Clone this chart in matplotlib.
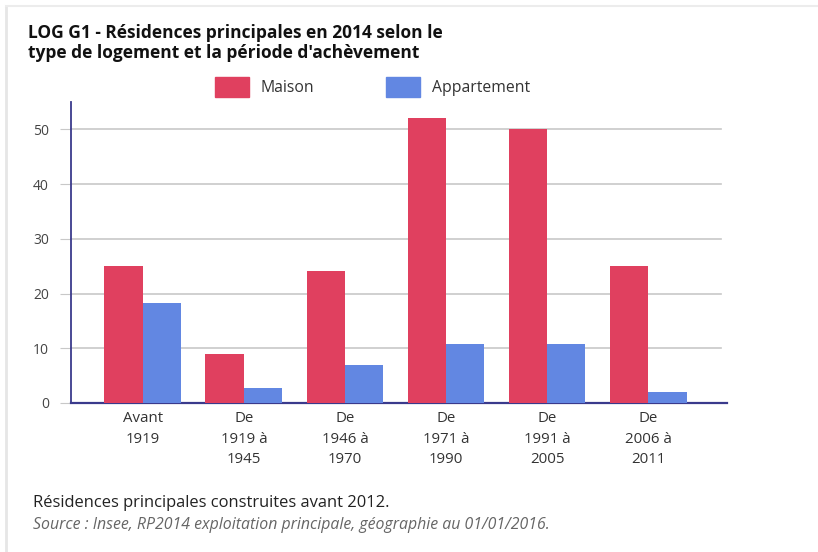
import matplotlib.pyplot as plt
import numpy as np
from matplotlib.patches import Rectangle
from matplotlib.lines import Line2D

categories = ["Avant\n1919", "De\n1919 à\n1945", "De\n1946 à\n1970",
              "De\n1971 à\n1990", "De\n1991 à\n2005", "De\n2006 à\n2011"]
maison = [25, 8.9, 24.1, 52, 50, 25]
appartement = [18.2, 2.8, 6.9, 10.8, 10.8, 2.0]
yticks = [0, 10, 20, 30, 40, 50]

RED = "#e0405f"
BLUE = "#6287e2"
AXIS = "#3a3a8c"

plt.rcParams["font.family"] = ["Open Sans", "DejaVu Sans"]

fig = plt.figure(figsize=(8.18, 5.52), dpi=100)
ax = fig.add_axes([71 / 818, 1 - 403 / 552, (727 - 71) / 818, (403 - 102) / 552])

x = np.arange(len(categories))
w = 0.38
ax.bar(x - w / 2, maison, w, color=RED, zorder=3)
ax.bar(x + w / 2, appartement, w, color=BLUE, zorder=3)

ax.set_xlim(-0.71, 5.78)
ax.set_ylim(0, 55)
ax.set_yticks(yticks)
ax.set_yticklabels([str(t) for t in yticks], fontsize=10, color="#444444")
ax.set_xticks(x)
ax.set_xticklabels(categories, fontsize=10.8, color="#333333", linespacing=1.5)
ax.tick_params(axis="x", length=0, pad=6)
ax.tick_params(axis="y", length=8, color="#c8c8c8", pad=8)
for t in yticks[1:]:
    ax.plot([-0.71, 5.72], [t, t], color="#c8c8c8", lw=1.2, zorder=1, clip_on=False)

for s in ["top", "right"]:
    ax.spines[s].set_visible(False)
ax.spines["left"].set_color(AXIS)
ax.spines["bottom"].set_color(AXIS)
ax.spines["left"].set_linewidth(1.3)
ax.spines["bottom"].set_linewidth(1.6)

# title
fig.text(28 / 818, 1 - 43 / 552, "LOG G1 - Résidences principales en 2014 selon le\n"
         "type de logement et la période d'achèvement",
         fontsize=12.5, fontweight="bold", color="#111111", va="center",
         linespacing=1.15)

# legend
fig.patches.append(Rectangle((215 / 818, 1 - 97 / 552), 34 / 818, 20 / 552,
                             transform=fig.transFigure, color=RED))
fig.text(260 / 818, 1 - 88 / 552, "Maison", fontsize=11.3, color="#333333", va="center")
fig.patches.append(Rectangle((386 / 818, 1 - 97 / 552), 34 / 818, 20 / 552,
                             transform=fig.transFigure, color=BLUE))
fig.text(432 / 818, 1 - 88 / 552, "Appartement", fontsize=11.3, color="#333333", va="center")

# footer
fig.text(33 / 818, 1 - 503 / 552, "Résidences principales construites avant 2012.",
         fontsize=11.9, color="#222222", va="center")
fig.text(33 / 818, 1 - 525 / 552,
         "Source : Insee, RP2014 exploitation principale, géographie au 01/01/2016.",
         fontsize=11.4, color="#666666", style="italic", va="center")

# faint frame
fig.lines.append(Line2D([6 / 818, 6 / 818], [0, 1 - 6 / 552], transform=fig.transFigure,
                        color="#e6e6e6", lw=2))
fig.lines.append(Line2D([6 / 818, 1], [1 - 6 / 552, 1 - 6 / 552], transform=fig.transFigure,
                        color="#ececec", lw=1.5))

fig.savefig("out.png", dpi=100)
